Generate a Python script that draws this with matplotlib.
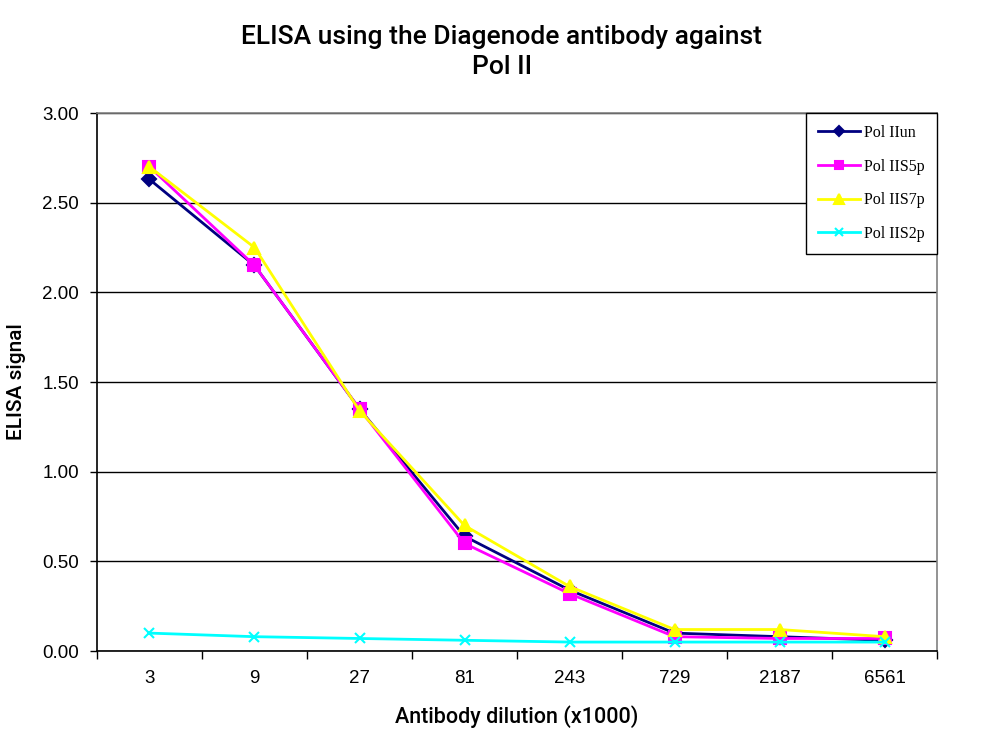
import matplotlib.pyplot as plt
import numpy as np

dilutions = ["3", "9", "27", "81", "243", "729", "2187", "6561"]
pol_un = [2.63, 2.15, 1.35, 0.64, 0.34, 0.10, 0.08, 0.06]
pol_s5p = [2.70, 2.15, 1.35, 0.60, 0.32, 0.08, 0.07, 0.07]
pol_s7p = [2.70, 2.25, 1.34, 0.70, 0.36, 0.12, 0.12, 0.08]
pol_s2p = [0.10, 0.08, 0.07, 0.06, 0.05, 0.05, 0.05, 0.05]

series = [
    ("Pol IIun", pol_un, "#000080", "D", 7),
    ("Pol IIS5p", pol_s5p, "#ff00ff", "s", 8),
    ("Pol IIS7p", pol_s7p, "#ffff00", "^", 9),
    ("Pol IIS2p", pol_s2p, "#00ffff", "x", 7),
]

fig = plt.figure(figsize=(10.04, 7.46), dpi=100)
ax = fig.add_axes([0.0966, 0.1273, 0.8367, 0.7212])

x = np.arange(len(dilutions))
for name, vals, col, mk, ms in series:
    ax.plot(x, vals, color=col, lw=2, marker=mk, markersize=ms,
            markeredgecolor=col, markerfacecolor=col, mew=1.5, label=name)

ax.set_xlim(-0.5, len(dilutions) - 0.5)
ax.set_ylim(0, 3)
ax.set_yticks(np.arange(0, 3.01, 0.5))
ax.set_yticklabels([f"{v:.2f}" for v in np.arange(0, 3.01, 0.5)])
ax.set_xticks(x)
ax.set_xticklabels(dilutions)
ax.set_xticks(np.arange(-0.5, len(dilutions)), minor=True)
ax.tick_params(axis="x", which="major", length=0, pad=14, labelsize=13.5)
ax.tick_params(axis="x", which="minor", length=6, width=1, direction="out")
ax.tick_params(axis="y", length=5, width=1, labelsize=13.5, pad=8)
for lab in ax.get_xticklabels() + ax.get_yticklabels():
    lab.set_family("Liberation Sans")

ax.yaxis.grid(True, color="black", lw=1)
ax.set_axisbelow(True)
ax.spines["left"].set_color("black")
ax.spines["bottom"].set_color("black")
ax.spines["top"].set_color("#808080")
ax.spines["right"].set_color("#808080")
for s in ax.spines.values():
    s.set_linewidth(1.2)

ax.set_ylabel("ELISA signal", fontsize=15, fontweight="medium", family="Roboto", labelpad=12)
ax.set_xlabel("Antibody dilution (x1000)", fontsize=15.5, fontweight="medium", family="Roboto", labelpad=13)
fig.suptitle("ELISA using the Diagenode antibody against\nPol II", fontsize=19,
             fontweight="medium", family="Roboto", y=0.966, linespacing=1.32)

leg = ax.legend(loc="upper left", bbox_to_anchor=(806 / 1004, 1 - 113 / 746),
                bbox_transform=fig.transFigure, prop={"family": "Liberation Serif", "size": 11.5},
                frameon=True, fancybox=False, edgecolor="black", framealpha=1,
                labelspacing=1.1, handlelength=2.6, handletextpad=0.3, markerscale=0.75,
                borderpad=0.75, borderaxespad=0)
leg.get_frame().set_linewidth(1)

fig.savefig("out.png", dpi=100)
